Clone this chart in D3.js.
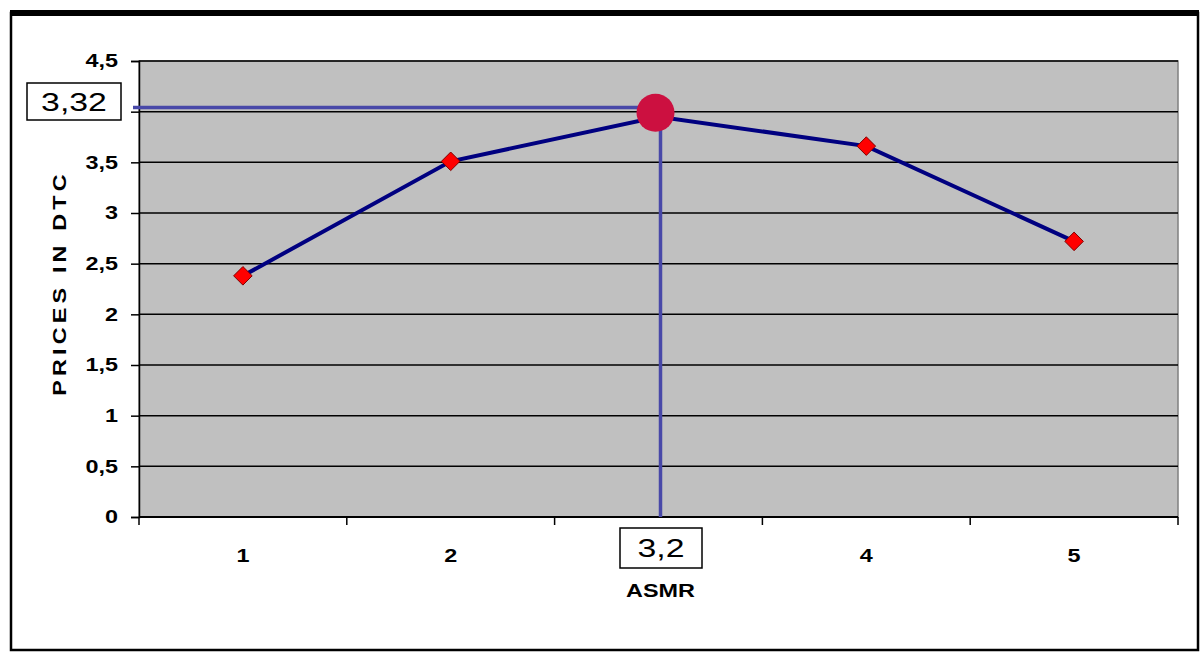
<!DOCTYPE html>
<html>
<head>
<meta charset="utf-8">
<script src="https://d3js.org/d3.v7.min.js"></script>
<style>
  body { margin: 0; background: #fff; }
  text { font-family: "Liberation Sans", Arial, sans-serif; }
</style>
</head>
<body>
<script>
// data
var categories = ["1", "2", "3,2", "4", "5"];
var prices = [2.38, 3.51, 3.95, 3.66, 2.72];
var yTicks = [0, 0.5, 1, 1.5, 2, 2.5, 3, 3.5, 4, 4.5];
var highlightIndex = 2;          // the "3,2" point
var highlightLevel = 4.04;       // height of the horizontal guide line
var highlightLabel = "3,32";

var W = 1201, H = 653;
var margin = { left: 139, right: 23, top: 61, bottom: 136 };
var plotW = W - margin.left - margin.right;
var plotH = H - margin.top - margin.bottom;
var stretch = 1.3;   // the original text looks stretched sideways

var svg = d3.select("body").append("svg")
    .attr("width", W)
    .attr("height", H);

// text helper: position with a group, stretch the glyphs horizontally
function label(parent, x, y, str, size, anchor, bold) {
    return parent.append("g")
        .attr("transform", "translate(" + x + "," + y + ")")
        .append("text")
        .attr("transform", "scale(" + stretch + ",1)")
        .attr("text-anchor", anchor)
        .attr("font-size", size)
        .attr("font-weight", bold ? "bold" : "normal")
        .attr("fill", "#000")
        .text(str);
}

// outer frame
svg.append("rect").attr("x", 11).attr("y", 13).attr("width", 1187).attr("height", 637)
    .attr("fill", "none").attr("stroke", "#000").attr("stroke-width", 2.5);
svg.append("line").attr("x1", 10).attr("x2", 1199).attr("y1", 13).attr("y2", 13)
    .attr("stroke", "#000").attr("stroke-width", 6);

var g = svg.append("g").attr("transform", "translate(" + margin.left + "," + margin.top + ")");

var x = d3.scaleBand().domain(categories).range([0, plotW]).padding(0);
var y = d3.scaleLinear().domain([0, 4.5]).range([plotH, 0]);

// plot background
g.append("rect").attr("width", plotW).attr("height", plotH)
    .attr("fill", "#c0c0c0").attr("stroke", "#808080").attr("stroke-width", 1.5);

// gridlines
g.selectAll("line.grid")
    .data(yTicks.filter(function(d) { return d > 0; }))
    .enter().append("line")
    .attr("class", "grid")
    .attr("x1", 0).attr("x2", plotW)
    .attr("y1", function(d) { return y(d); })
    .attr("y2", function(d) { return y(d); })
    .attr("stroke", "#000").attr("stroke-width", 1.5);

// y axis
var yAxis = g.append("g")
    .call(d3.axisLeft(y).tickValues(yTicks).tickSize(8).tickPadding(13)
        .tickFormat(function(d) { return String(d).replace(".", ","); }));
yAxis.select(".domain").attr("stroke", "#000").attr("stroke-width", 1.5);
yAxis.selectAll(".tick line").attr("stroke", "#000").attr("stroke-width", 1.5);
yAxis.selectAll(".tick text")
    .attr("x", -21 / stretch)
    .attr("transform", "scale(" + stretch + ",1)")
    .attr("font-size", 18).attr("font-weight", "bold").attr("fill", "#000")
    .attr("font-family", "Liberation Sans, Arial, sans-serif");

// x axis: ticks between categories
var bounds = d3.range(categories.length + 1).map(function(i) { return i * x.bandwidth(); });
g.append("line").attr("x1", 0).attr("x2", plotW).attr("y1", plotH).attr("y2", plotH)
    .attr("stroke", "#000").attr("stroke-width", 2);
g.selectAll("line.xtick")
    .data(bounds)
    .enter().append("line")
    .attr("class", "xtick")
    .attr("x1", function(d) { return d; }).attr("x2", function(d) { return d; })
    .attr("y1", plotH).attr("y2", plotH + 8)
    .attr("stroke", "#000").attr("stroke-width", 1.5);

categories.forEach(function(c, i) {
    if (i === highlightIndex) return;
    label(g, x(c) + x.bandwidth() / 2, plotH + 45, c, 18, "middle", true);
});

// axis titles
label(g, plotW / 2 + 2, plotH + 80, "ASMR", 18, "middle", true);
svg.append("g")
    .attr("transform", "translate(66,283) rotate(-90)")
    .append("text")
    .attr("transform", "scale(" + stretch + ",1)")
    .attr("text-anchor", "middle")
    .attr("font-size", 18).attr("font-weight", "bold")
    .attr("letter-spacing", 3.2)
    .text("PRICES IN DTC");

// guide lines to the highlighted point
var hx = x(categories[highlightIndex]) + x.bandwidth() / 2;
g.append("line")
    .attr("x1", -6).attr("x2", hx).attr("y1", y(highlightLevel)).attr("y2", y(highlightLevel))
    .attr("stroke", "#4848a8").attr("stroke-width", 3.5);
g.append("line")
    .attr("x1", hx + 2).attr("x2", hx + 2).attr("y1", y(prices[highlightIndex])).attr("y2", plotH)
    .attr("stroke", "#4848a8").attr("stroke-width", 3.5);

// series line
var line = d3.line()
    .x(function(d, i) { return x(categories[i]) + x.bandwidth() / 2; })
    .y(function(d) { return y(d); });
g.append("path").datum(prices)
    .attr("d", line)
    .attr("fill", "none").attr("stroke", "#000080").attr("stroke-width", 4);

// diamond markers
prices.forEach(function(d, i) {
    if (i === highlightIndex) return;
    g.append("path")
        .attr("d", d3.symbol().type(d3.symbolDiamond2).size(220))
        .attr("transform", "translate(" + (x(categories[i]) + x.bandwidth() / 2) + "," + y(d) + ")")
        .attr("fill", "#ff0000").attr("stroke", "#800000").attr("stroke-width", 1);
});

// highlighted point
g.append("circle")
    .attr("cx", hx - 3).attr("cy", y(prices[highlightIndex]) - 4)
    .attr("r", 19)
    .attr("fill", "#cc1040");

// boxed labels
function boxLabel(x0, y0, w, h, txt) {
    svg.append("rect")
        .attr("x", x0).attr("y", y0).attr("width", w).attr("height", h)
        .attr("fill", "#fff").attr("stroke", "#000").attr("stroke-width", 1.5);
    label(svg, x0 + w / 2, y0 + h / 2 + 9, txt, 26, "middle", false);
}
boxLabel(27, 83, 94, 37, highlightLabel);
boxLabel(620, 528, 82, 40, categories[highlightIndex]);
</script>
</body>
</html>
